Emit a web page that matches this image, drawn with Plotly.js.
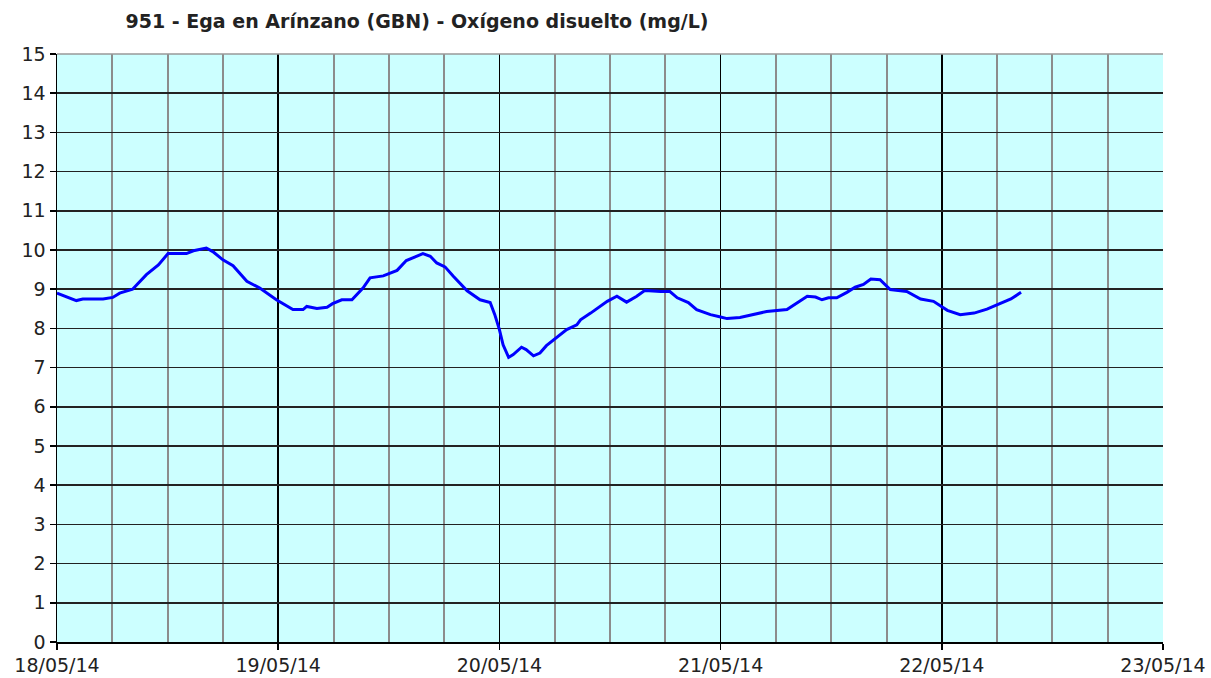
<!DOCTYPE html>
<html>
<head>
<meta charset="utf-8">
<script src="https://cdn.plot.ly/plotly-3.0.1.min.js"></script>
<style>html,body{margin:0;padding:0;background:#fff;}#chart{width:1211px;height:678px;}</style>
</head>
<body>
<div id="chart"></div>
<script>
const chartTitle = "951 - Ega en Arínzano (GBN) - Oxígeno disuelto (mg/L)";
const times = [
 "2014-05-18 00:00","2014-05-18 02:06","2014-05-18 02:48","2014-05-18 05:00","2014-05-18 06:03",
 "2014-05-18 06:48","2014-05-18 08:12","2014-05-18 09:42","2014-05-18 11:00","2014-05-18 12:03",
 "2014-05-18 14:03","2014-05-18 14:48","2014-05-18 16:12","2014-05-18 16:54","2014-05-18 18:00",
 "2014-05-18 19:06","2014-05-18 20:36","2014-05-18 22:00","2014-05-18 23:48","2014-05-19 01:36",
 "2014-05-19 02:42","2014-05-19 03:06","2014-05-19 04:12","2014-05-19 05:18","2014-05-19 05:54",
 "2014-05-19 06:54","2014-05-19 08:00","2014-05-19 09:12","2014-05-19 09:58","2014-05-19 11:24",
 "2014-05-19 12:54","2014-05-19 13:54","2014-05-19 14:48","2014-05-19 15:42","2014-05-19 16:30",
 "2014-05-19 17:12","2014-05-19 18:06","2014-05-19 19:00","2014-05-19 20:30","2014-05-19 21:54",
 "2014-05-19 23:00","2014-05-19 23:30","2014-05-20 00:00","2014-05-20 00:24","2014-05-20 01:00",
 "2014-05-20 01:30","2014-05-20 02:24","2014-05-20 02:54","2014-05-20 03:42","2014-05-20 04:24",
 "2014-05-20 05:06","2014-05-20 06:12","2014-05-20 07:18","2014-05-20 08:24","2014-05-20 08:48",
 "2014-05-20 09:54","2014-05-20 11:42","2014-05-20 12:45","2014-05-20 13:48","2014-05-20 14:54",
 "2014-05-20 15:48","2014-05-20 17:30","2014-05-20 18:30","2014-05-20 19:18","2014-05-20 20:30",
 "2014-05-20 21:24","2014-05-20 22:54","2014-05-21 00:00","2014-05-21 00:42","2014-05-21 02:06",
 "2014-05-21 03:36","2014-05-21 05:00","2014-05-21 07:12","2014-05-21 08:18","2014-05-21 09:24",
 "2014-05-21 10:18","2014-05-21 11:00","2014-05-21 11:42","2014-05-21 12:36","2014-05-21 13:42",
 "2014-05-21 14:36","2014-05-21 15:30","2014-05-21 16:18","2014-05-21 17:18","2014-05-21 18:24",
 "2014-05-21 20:12","2014-05-21 21:42","2014-05-21 23:06","2014-05-22 00:36","2014-05-22 02:00",
 "2014-05-22 03:30","2014-05-22 04:54","2014-05-22 06:24","2014-05-22 07:30","2014-05-22 08:36"
];
const oxygen = [
 8.90,8.71,8.75,8.75,8.79,
 8.90,9.00,9.37,9.62,9.91,
 9.91,9.98,10.05,9.96,9.75,
 9.60,9.20,9.03,8.73,8.48,
 8.48,8.56,8.51,8.54,8.63,
 8.73,8.73,9.03,9.29,9.34,
 9.48,9.73,9.82,9.91,9.84,
 9.67,9.57,9.33,8.96,8.73,
 8.66,8.35,7.97,7.58,7.26,
 7.33,7.52,7.46,7.30,7.37,
 7.56,7.76,7.97,8.09,8.22,
 8.39,8.69,8.82,8.67,8.82,
 8.97,8.94,8.94,8.78,8.66,
 8.48,8.35,8.29,8.25,8.28,
 8.35,8.43,8.48,8.65,8.82,
 8.80,8.73,8.78,8.78,8.92,
 9.05,9.12,9.26,9.24,8.99,
 8.94,8.75,8.69,8.46,8.35,
 8.39,8.49,8.63,8.75,8.92
];
const xRange = ["2014-05-18 00:00","2014-05-23 00:00"];
const yRange = [0, 15];

const font = "DejaVu Sans, Verdana, sans-serif";
const trace = {
  x: times, y: oxygen, type: "scatter", mode: "lines",
  line: {color: "#0000FF", width: 3}, hoverinfo: "skip"
};
const layout = {
  width: 1211, height: 678,
  margin: {l: 57, r: 48, t: 54, b: 36},
  paper_bgcolor: "#ffffff", plot_bgcolor: "#CCFFFF",
  showlegend: false,
  title: {text: chartTitle, font: {family: font, size: 19, color: "#222", weight: "bold"},
          x: 417/1211, xref: "container", xanchor: "center", y: 1 - 21/678, yanchor: "middle"},
  xaxis: {
    type: "date", range: xRange, dtick: 86400000, tick0: "2014-05-18",
    tickformat: "%d/%m/%y", ticks: "outside", ticklen: 6, tickcolor: "#000", tickwidth: 1.5,
    showgrid: true, gridcolor: "#000", gridwidth: 1.5,
    minor: {dtick: 21600000, showgrid: true, gridcolor: "#8c8c8c", gridwidth: 2, ticks: ""},
    showline: true, linecolor: "#000", linewidth: 1.5,
    zeroline: false, fixedrange: true,
    tickfont: {family: font, size: 19, color: "#222"}
  },
  yaxis: {
    range: yRange, dtick: 1, tick0: 0,
    ticks: "outside", ticklen: 6, tickcolor: "#000", tickwidth: 1.5,
    showgrid: true, gridcolor: "#222", gridwidth: 1.5,
    showline: true, linecolor: "#000", linewidth: 1.5,
    zeroline: false, fixedrange: true,
    tickfont: {family: font, size: 19, color: "#222"}
  },
  shapes: [
    {type: "line", xref: "paper", yref: "paper", x0: 0, x1: 1, y0: 1, y1: 1,
     line: {color: "#999", width: 1.5}, layer: "above"}
  ]
};
Plotly.newPlot("chart", [trace], layout, {displayModeBar: false, staticPlot: true});
</script>
</body>
</html>
